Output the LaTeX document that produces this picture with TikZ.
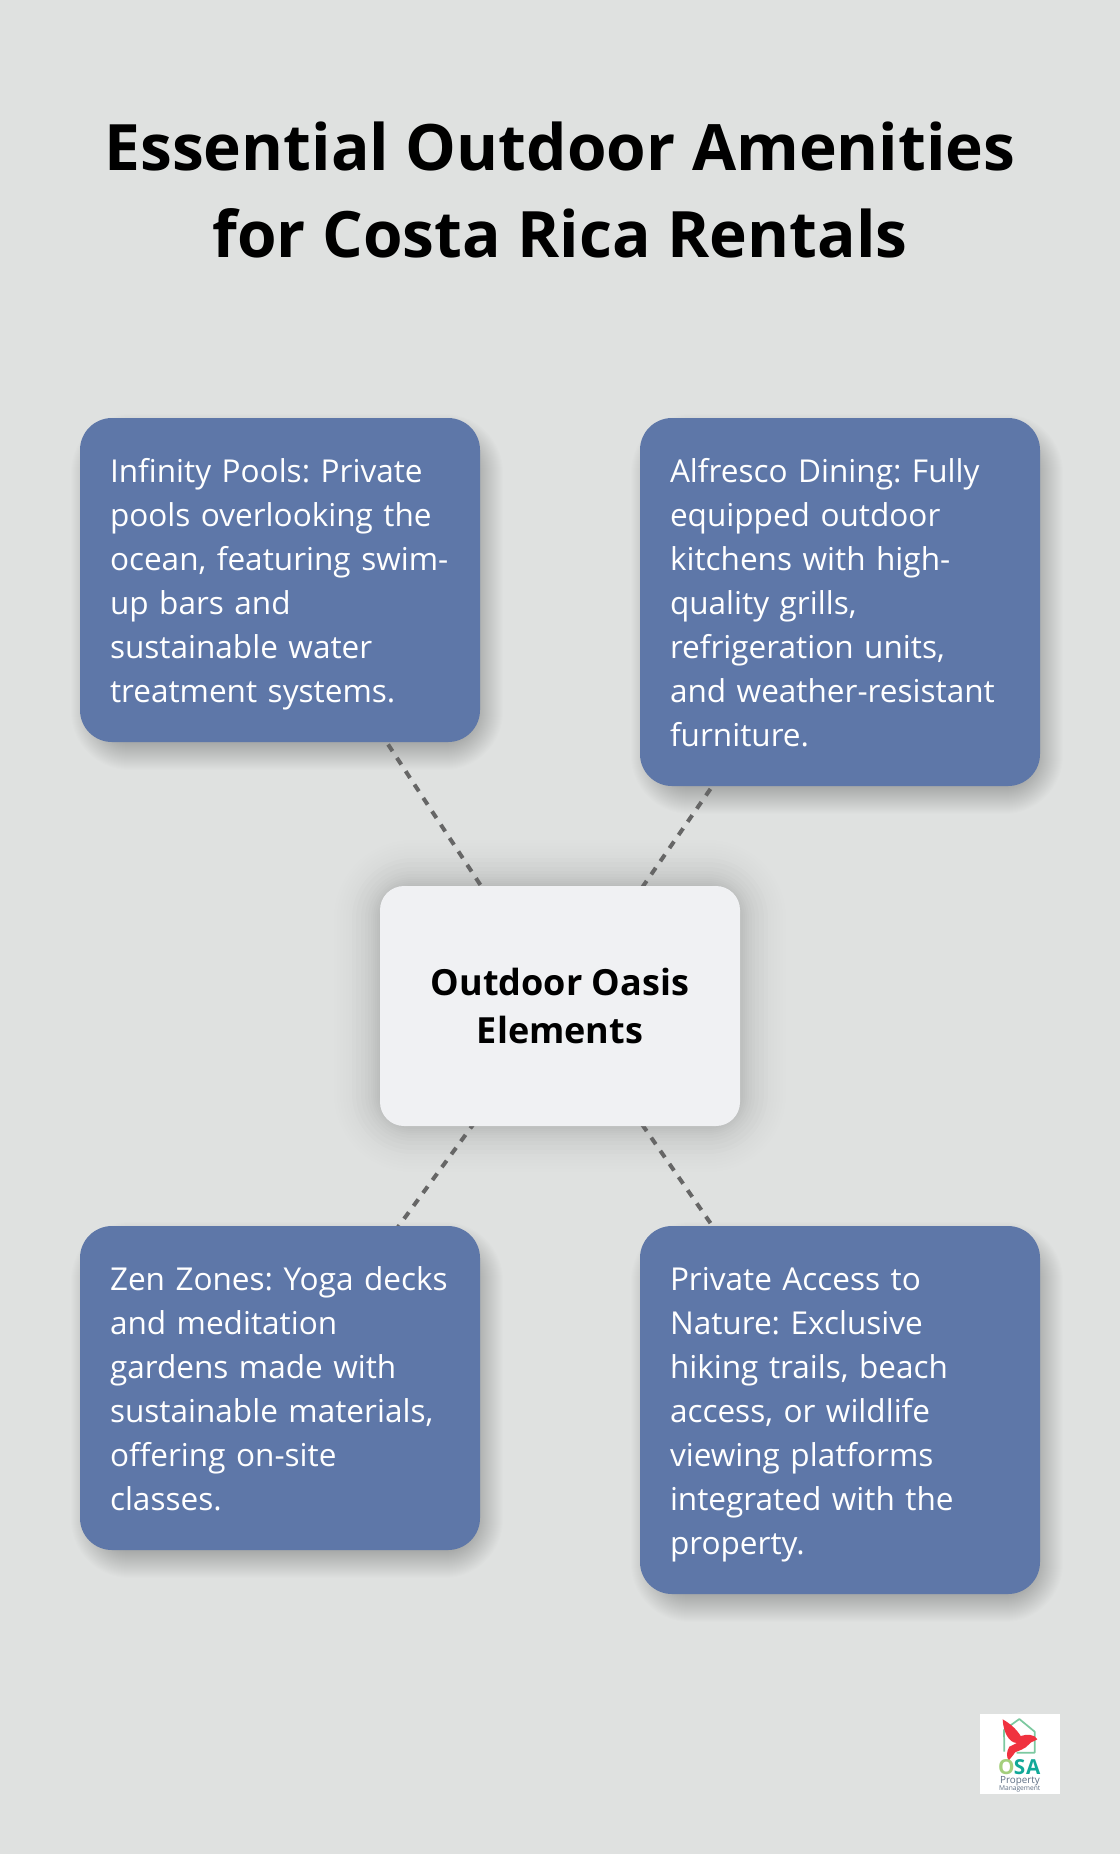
\documentclass[tikz,border=0pt]{standalone}
\usepackage{fontspec}
\setmainfont{Open Sans}
\frenchspacing
\definecolor{pagebg}{HTML}{DFE1E0}
\definecolor{cardblue}{HTML}{5E77A8}
\definecolor{hubfill}{HTML}{F0F1F3}
\definecolor{linkgray}{HTML}{666666}
\definecolor{logored}{HTML}{F0323F}
\definecolor{logogreen}{HTML}{7CC9A0}
\definecolor{logoteal}{HTML}{12A898}
\definecolor{logolime}{HTML}{A4CF7C}
\definecolor{logoslate}{HTML}{5F6F85}
\pgfdeclarelayer{shadowlayer}
\pgfdeclarelayer{linklayer}
\pgfsetlayers{shadowlayer,linklayer,main}
\newcommand{\cardtop}{\rule{0pt}{26pt}}
\newcommand{\cardbot}{\rule[-7pt]{0pt}{7pt}}
\newcommand{\hubtop}{\rule{0pt}{24pt}}
\tikzset{
  card/.style={fill=cardblue,text=white,rounded corners=24pt,minimum width=300pt,
    text width=255pt,align=left,inner sep=0pt,outer sep=0pt,
    font=\fontsize{23.65}{33}\selectfont,
    execute at begin node=\cardtop, execute at end node=\cardbot},
  hubbox/.style={fill=hubfill,text=black,rounded corners=18pt,minimum width=270pt,minimum height=180pt,
    align=center,inner sep=0pt,outer sep=0pt,font=\bfseries\fontsize{27}{36}\selectfont,
    execute at begin node=\hubtop},
  titletext/.style={text=black,align=center,inner sep=0pt,font=\bfseries\fontsize{48}{65.25}\selectfont},
  link/.style={draw=linkgray,line width=3pt,dash pattern=on 6pt off 6pt}
}
\newcommand{\softshadow}[6]{%
  \foreach \s in {#5}{%
    \pgfmathsetmacro{\rr}{max(#2+\s*0.75,1)}%
    \fill[black,opacity=#6,rounded corners=\rr pt]
      ([shift={(#3-\s,#4+\s)}]#1.south west) rectangle ([shift={(#3+\s,#4-\s)}]#1.north east);
  }%
}
\begin{document}
\begin{tikzpicture}[x=0.75pt,y=-0.75pt]
\useasboundingbox (0,0) rectangle (1120,1854);
\begin{pgfonlayer}{shadowlayer}
\fill[pagebg] (0,0) rectangle (1120,1854);
\end{pgfonlayer}
\node[titletext] (title) at (560,190) {Essential Outdoor Amenities\\for Costa Rica Rentals};
\node[card,minimum height=243pt] (pools) at (280,580) {Infinity Pools: Private\\pools overlooking the\\\mbox{ocean, featuring swim-}\\up bars and\\sustainable water\\treatment systems.};
\node[card,minimum height=276pt] (dining) at (840,602) {Alfresco Dining: Fully\\equipped outdoor\\kitchens with high-\\quality grills,\\refrigeration units,\\and weather-resistant\\furniture.};
\node[hubbox] (hub) at (560,1006) {Outdoor Oasis\\Elements};
\node[card,minimum height=243pt] (zen) at (280,1388) {\mbox{Zen Zones: Yoga decks}\\and meditation\\gardens made with\\sustainable materials,\\offering on-site\\classes.};
\node[card,minimum height=276pt] (nature) at (840,1410) {Private Access to\\Nature: Exclusive\\hiking trails, beach\\access, or wildlife\\viewing platforms\\integrated with the\\property.};
\begin{pgfonlayer}{shadowlayer}
\softshadow{pools}{32}{7}{12}{-12,-11,...,16}{0.009}
\softshadow{dining}{32}{7}{12}{-12,-11,...,16}{0.009}
\softshadow{zen}{32}{7}{12}{-12,-11,...,16}{0.009}
\softshadow{nature}{32}{7}{12}{-12,-11,...,16}{0.009}
\softshadow{hub}{24}{0}{0}{-30,-24,-19,-15,-12,-9,-7,-5,-3,-1,1,3,5,7,9,12,15,19,24,28}{0.0115}
\softshadow{hub}{24}{0}{0}{31,34,37,40,43,46}{0.0046}
\end{pgfonlayer}
\begin{pgfonlayer}{linklayer}
\draw[link,dash phase=8.4pt] (pools.center) -- (hub.center);
\draw[link,dash phase=9.45pt] (dining.center) -- (hub.center);
\draw[link,dash phase=10.6pt] (zen.center) -- (hub.center);
\draw[link,dash phase=9.45pt] (nature.center) -- (hub.center);
\end{pgfonlayer}
% logo
\node[fill=white,minimum size=60pt,inner sep=0pt] (logo) at (1020,1754) {};
\begin{scope}[shift={(960,1690)},x=0.25pt,y=-0.25pt]
\draw[logogreen,line width=1.3pt,line join=round] (133,185) -- (132,120) -- (178,87) -- (224,125) -- (224,188) -- (170,188);
\fill[logored] (128,88) .. controls (150,100) and (170,118) .. (182,138) .. controls (200,132) and (224,132) .. (232,148) .. controls (226,155) and (215,152) .. (208,162) .. controls (195,178) and (175,182) .. (165,187) .. controls (160,196) and (150,206) .. (146,212) .. controls (139,200) and (139,185) .. (148,170) .. controls (158,166) and (164,162) .. (170,159) .. controls (145,157) and (130,125) .. (128,88) -- cycle;
\node[text=logolime,font=\bfseries\fontsize{15.5}{15.5}\selectfont,inner sep=0pt] (logoo) at (139,232) {O};
\node[text=logoteal,font=\bfseries\fontsize{15.5}{15.5}\selectfont,inner sep=0pt] (logos) at (179,232) {S};
\node[text=logoteal,font=\bfseries\fontsize{15.5}{15.5}\selectfont,inner sep=0pt] (logoa) at (220,232) {A};
\node[text=logoslate,font=\fontsize{7.4}{7.4}\selectfont,inner sep=0pt] (logop) at (180,273) {Property};
\node[text=logoslate,font=\fontsize{5}{5}\selectfont,inner sep=0pt] (logom) at (179,297) {Management};
\end{scope}
\end{tikzpicture}
\end{document}
